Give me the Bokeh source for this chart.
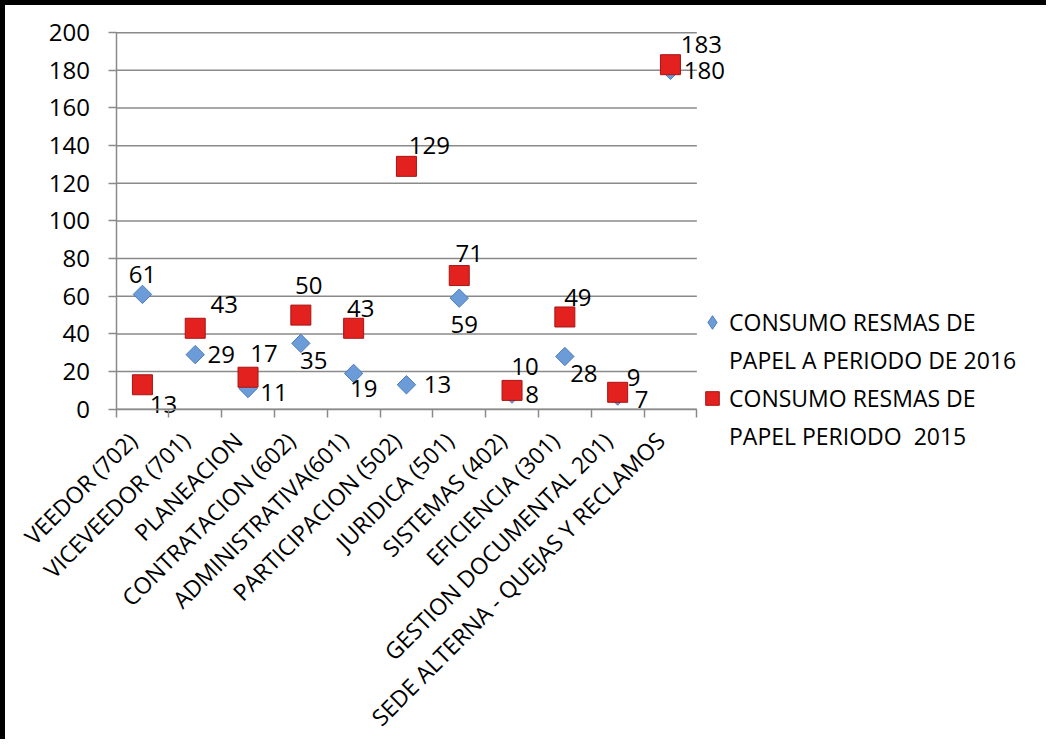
from math import pi
from bokeh.plotting import figure
from bokeh.models import ColumnDataSource, Range1d, FixedTicker, Legend, LegendItem
from bokeh.core.properties import value
from bokeh.embed import file_html
from bokeh.resources import INLINE

# ---- data ----
categories = ["VEEDOR (702)", "VICEVEEDOR (701)", "PLANEACION", "CONTRATACION (602)",
              "ADMINISTRATIVA(601)", "PARTICIPACION (502)", "JURIDICA (501)",
              "SISTEMAS (402)", "EFICIENCIA (301)", "GESTION DOCUMENTAL 201)",
              "SEDE ALTERNA - QUEJAS Y RECLAMOS"]
consumo_2016 = [61, 29, 11, 35, 19, 13, 59, 8, 28, 7, 180]
consumo_2015 = [13, 43, 17, 50, 43, 129, 71, 10, 49, 9, 183]
series_2016 = ["CONSUMO RESMAS DE", "PAPEL A PERIODO DE 2016"]
series_2015 = ["CONSUMO RESMAS DE", "PAPEL PERIODO  2015"]
y_ticks = [0, 20, 40, 60, 80, 100, 120, 140, 160, 180, 200]

# ---- label offsets (pixels, style only) ----
off_2016 = [(0, -20), (26, 0), (26, 4), (13, 17), (10, 15), (31, 0), (5, 26),
            (20, 0), (19, 17), (24, 3), (34, 0)]
off_2015 = [(21, 20), (29, -24), (16, -24), (8, -30), (7, -20), (23, -21),
            (10, -22), (13, -24), (13, -19), (16, -15), (31, -20)]

FONT = "Open Sans"
FS_NUM = "24px"
FS_TXT = "23px"
GRAY = "#8a8a8a"
BLUE_FILL, BLUE_LINE = "#6c9cd8", "#4a7bbf"
RED_FILL, RED_LINE = "#e3211f", "#a81414"

# ---- layout geometry (pixels) ----
W, H, BORDER = 1046, 739, 5
canvas_w, canvas_h = W - BORDER, H - BORDER
ORIGIN_X, ORIGIN_Y = 110, 401   # canvas position of (0, 0)
TOP_Y = 27                      # canvas y of the top gridline
PX_X = 52.55                    # pixels per category

n = len(categories)
xs = [i + 0.5 for i in range(n)]
PX_Y = (ORIGIN_Y - TOP_Y) / y_ticks[-1]
x_min, x_max = -ORIGIN_X / PX_X, (canvas_w - ORIGIN_X) / PX_X
y_min, y_max = -(canvas_h - ORIGIN_Y) / PX_Y, y_ticks[-1] + TOP_Y / PX_Y

src16 = ColumnDataSource(dict(x=xs, y=consumo_2016, t=[str(v) for v in consumo_2016],
                              dx=[o[0] for o in off_2016], dy=[o[1] for o in off_2016]))
src15 = ColumnDataSource(dict(x=xs, y=consumo_2015, t=[str(v) for v in consumo_2015],
                              dx=[o[0] for o in off_2015], dy=[o[1] for o in off_2015]))
grid_src = ColumnDataSource(dict(x0=[0] * len(y_ticks), x1=[n] * len(y_ticks),
                                 y=y_ticks))

p = figure(width=W, height=H, x_range=Range1d(x_min, x_max), y_range=Range1d(y_min, y_max),
           output_backend="svg", toolbar_location=None,
           min_border_left=0, min_border_top=0, min_border_right=0, min_border_bottom=0)
p.styles = {"border-top": f"{BORDER}px solid black", "border-left": f"{BORDER}px solid black"}
p.outline_line_color = None
p.background_fill_color = "white"
p.border_fill_color = "white"
p.xgrid.grid_line_color = None
p.ygrid.grid_line_color = None

# horizontal gridlines (only across the category span)
p.segment(x0="x0", x1="x1", y0="y", y1="y", source=grid_src,
          line_color=GRAY, line_width=1.5)

# y axis at x = 0
p.yaxis.ticker = FixedTicker(ticks=y_ticks)
p.yaxis.fixed_location = 0
p.yaxis.bounds = (y_ticks[0], y_ticks[-1])
p.yaxis.major_tick_out = 8
p.yaxis.major_tick_in = 0
p.yaxis.minor_tick_line_color = None
p.yaxis.axis_line_color = GRAY
p.yaxis.axis_line_width = 1.5
p.yaxis.major_tick_line_color = GRAY
p.yaxis.major_tick_line_width = 1.5
p.yaxis.major_label_standoff = 18
p.yaxis.major_label_text_font = FONT
p.yaxis.major_label_text_font_size = FS_NUM
p.yaxis.major_label_text_color = "black"

# x axis at y = 0 (label anchors nudged to match Excel's rotated labels)
lab_pos = [x - 0.19 for x in xs]
p.xaxis.ticker = FixedTicker(ticks=lab_pos, minor_ticks=list(range(n + 1)))
p.xaxis.major_label_overrides = {x: c for x, c in zip(lab_pos, categories)}
p.xaxis.fixed_location = 0
p.xaxis.bounds = (0, n)
p.xaxis.major_tick_line_color = None
p.xaxis.major_tick_out = 8
p.xaxis.minor_tick_line_color = GRAY
p.xaxis.minor_tick_line_width = 1.5
p.xaxis.minor_tick_out = 8
p.xaxis.minor_tick_in = 0
p.xaxis.axis_line_color = GRAY
p.xaxis.axis_line_width = 1.5
p.xaxis.major_label_orientation = pi / 4
p.xaxis.major_label_standoff = 19
p.xaxis.major_label_text_font = FONT
p.xaxis.major_label_text_font_size = FS_TXT
p.xaxis.major_label_text_color = "black"

# markers
r16 = p.scatter(x="x", y="y", source=src16, marker="square", angle=pi / 4, size=13,
                fill_color=BLUE_FILL, line_color=BLUE_LINE, line_width=1)
r15 = p.scatter(x="x", y="y", source=src15, marker="square", size=20,
                fill_color=RED_FILL, line_color=RED_LINE, line_width=1)

# data labels
for s in (src16, src15):
    p.text(x="x", y="y", text="t", source=s, x_offset="dx", y_offset="dy",
           text_align="center", text_baseline="middle",
           text_font=value(FONT), text_font_size=FS_NUM, text_color="black")

# legend swatches
leg16 = p.scatter(x="x", y="y", source=src16, marker="diamond",
                  fill_color=BLUE_FILL, line_color=BLUE_LINE, visible=False)
blank = p.scatter(x="x", y="y", source=src16, marker="square",
                  fill_alpha=0, line_alpha=0)

legend = Legend(items=[LegendItem(label=series_2016[0], renderers=[leg16]),
                       LegendItem(label=series_2016[1], renderers=[blank]),
                       LegendItem(label=series_2015[0], renderers=[r15]),
                       LegendItem(label=series_2015[1], renderers=[blank])],
                location=(690, 291), padding=0, margin=0, spacing=4,
                label_standoff=0, glyph_width=34, glyph_height=34,
                label_text_font=FONT, label_text_font_size=FS_TXT,
                label_text_color="black", inactive_fill_alpha=0,
                border_line_color=None, background_fill_alpha=0)
p.add_layout(legend)

open("out.html", "w").write(file_html(p, INLINE))
